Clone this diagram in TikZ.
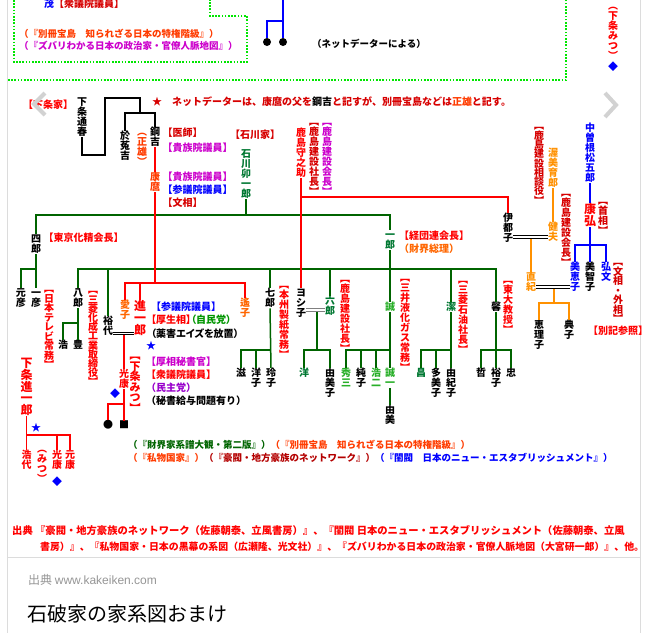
\documentclass[tikz,border=0pt]{standalone}
\usepackage{fontspec}
\setmainfont{Noto Sans CJK JP}
\newfontfamily\latinsans{Liberation Sans}
\usetikzlibrary{positioning}
\definecolor{jred}{RGB}{255,0,0}
\definecolor{dkred}{RGB}{215,0,0}
\definecolor{dkredB}{RGB}{180,0,0}
\definecolor{ored}{RGB}{255,60,0}
\definecolor{orng}{RGB}{255,102,0}
\definecolor{amber}{RGB}{255,145,0}
\definecolor{mag}{RGB}{204,0,204}
\definecolor{purp}{RGB}{153,0,204}
\definecolor{jblue}{RGB}{0,0,255}
\definecolor{grline}{RGB}{0,100,0}
\definecolor{grtext}{RGB}{0,120,50}
\definecolor{lgrn}{RGB}{40,175,40}
\definecolor{jpgreen}{RGB}{0,150,0}
\definecolor{dotgreen}{RGB}{0,230,0}
\definecolor{framegray}{RGB}{220,220,220}
\definecolor{arrowgray}{RGB}{210,210,210}
\definecolor{credgray}{RGB}{150,150,150}

% vertical text: one character per line
\makeatletter
\def\vt@end{\vt@end}
\newcommand\vt[2][1.0em]{\vbox{\baselineskip=#1\lineskiplimit=-\maxdimen\lineskip=0pt\vt@loop#2\vt@end}}
\def\vt@loop#1{\ifx\vt@end#1\else\hbox to 1em{\hss\vrule height .86em depth .14em width 0pt#1\hss}\expandafter\vt@loop\fi}
\makeatother

\begin{document}
\begin{tikzpicture}[x=1pt,y=-1pt,
  every node/.style={inner sep=0pt,font=\fontsize{10}{11}\selectfont\bfseries},
  vn/.style={anchor=north},
  hn/.style={anchor=west},
  small/.style={font=\fontsize{9.5}{11}\selectfont\bfseries},
  tight/.style={font=\fontsize{10}{11}\selectfont\bfseries\addfontfeatures{RawFeature=+palt}},
  big/.style={font=\fontsize{12}{13}\selectfont\bfseries},
  gline/.style={draw=grline,line width=1.5pt},
  rline/.style={draw=jred,line width=1.5pt},
  bline/.style={draw=black,line width=1.5pt},
  uline/.style={draw=jblue,line width=1.5pt},
  oline/.style={draw=amber,line width=1.5pt},
  dblk/.style={draw=black,double=white,double distance=1.4pt,line width=0.9pt},
  dgry/.style={draw=gray,double=white,double distance=1.4pt,line width=0.9pt},
  dots/.style={draw=dotgreen,line width=1.6pt,dash pattern=on 1.6pt off 1.6pt}]
  \clip (0,0) rectangle (659,633);
  \fill[white] (0,0) rectangle (659,633);
  % page frame and dotted boxes
  \draw[framegray,line width=0.8pt] (7,0) -- (7,633) (640,0) -- (640,633) (7,557) -- (640,557);
  \draw[dots] (14,0) -- (14,62) -- (247,62) -- (247,16) -- (210,16) -- (210,0);
  \draw[dots] (8,80) -- (566,80) -- (566,0);

  % top block
  \node[hn] (shigeru) at (44,4) {\textcolor{jblue}{茂}\textcolor{dkred}{【衆議院議員】}};
  \node[hn,small,text=ored] (srcA) at (19,34) {（『別冊宝島　知られざる日本の特権階級』）};
  \node[hn,small,text=mag] (srcB) at (19,46) {（『ズバリわかる日本の政治家・官僚人脈地図』）};
  \node[circle,fill=black,minimum size=8pt] (dotA) at (267,42) {};
  \node[circle,fill=black,minimum size=8pt] (dotB) at (283,42) {};
  \coordinate (mtop) at (283,-2);
  \coordinate (mj) at (283,21);
  \draw[uline] (mtop) -- (dotB.north);
  \draw[uline] (dotA.north) |- (mj);
  \node[hn,small] (netnote) at (312,44) {（ネットデーターによる）};
  \node[anchor=south,text=jred] (mitsuTop) at (613,61) {\vt{︵下条みつ︶}};
  \node[text=jblue] (diaA) at (613,67) {◆};

  \node[hn,text=jred] (shimojoke) at (23,105) {【下条家】};
  \node[hn,text=dkred] (note) at (152,102) {★　ネットデーターは、康麿の父を\textcolor{black}{鋼吉}と記すが、別冊宝島などは\textcolor{ored}{正雄}と記す。};

  % Shimojo
  \node[vn] (michiharu) at (82,97) {\vt{下条通春}};
  \node[vn] (otokichi) at (125,131) {\vt{於菟吉}};
  \node[vn,text=ored] (masao) at (142,127) {\vt{︵正雄︶}};
  \node[vn] (kokichi) at (155,127) {\vt{鋼吉}};
  \node[hn,text=dkred] (ishi) at (162.5,133) {【医師】};
  \node[hn,text=mag] (kizokuA) at (162.5,148) {【貴族院議員】};
  \coordinate (sj) at (140,113);
  \draw[bline] (michiharu.south) -- (82,155) -- (105,155) -- (105,98) -- (140,98) -- (sj);
  \draw[bline] (otokichi.north) |- (sj) -| (kokichi.north);
  \node[vn,text=ored] (yasumaro) at (155,172) {\vt{康麿}};
  \node[hn,text=mag] (kizokuB) at (162.5,177) {【貴族院議員】};
  \node[hn,text=jblue] (sangiA) at (162.5,190) {【参議院議員】};
  \node[hn,text=dkred] (monsho) at (162.5,203) {【文相】};

  % Ishikawa
  \node[hn,text=dkred] (ishikawake) at (230,135) {【石川家】};
  \node[vn,text=grtext] (ishikawa) at (246,149) {\vt{石川卯一郎}};
  \coordinate (bar1) at (246,215);
  \node[vn] (shiro) at (36,234) {\vt{四郎}};
  \node[hn,text=jred] (kasei) at (43.5,238) {【東京化精会長】};
  \node[vn] (motohiko) at (21,288) {\vt{元彦}};
  \node[vn] (kazuhiko) at (36,288) {\vt{一彦}};
  \node[vn,text=jred] (ntv) at (49,284) {\vt[0.95em]{︻日本テレビ常務︼}};
  \coordinate (sb4) at (36,269);
  \node[vn,text=grtext] (ichiro) at (390,230) {\vt{一郎}};
  \node[hn,text=jred] (keidanren) at (399,236) {【経団連会長】};
  \node[hn,text=orng] (zaikai) at (399,249) {（財界総理）};
  \coordinate (bar2) at (390,269);

  \node[vn] (hachiro) at (78,288) {\vt{八郎}};
  \node[vn] (hiroshi) at (63,340) {\vt{浩}};
  \node[vn] (yutaka) at (78,340) {\vt{豊}};
  \coordinate (sb8) at (78,323);
  \node[vn,text=jred] (mitsubishiA) at (93,285) {\vt[0.92em]{︻三菱化成工業取締役︼}};
  \node[vn] (hiroyo) at (108,316) {\vt{裕代}};
  \node[vn,text=orng] (aiko) at (125,300) {\vt{愛子}};
  \node[vn,text=jred,big] (shinichiro) at (140,300) {\vt[0.98em]{進一郎}};
  \coordinate (bar3) at (155,283);
  \coordinate (hs) at (124,333.5);
  \node[hn,text=jblue] (sangiB) at (151,307) {【参議院議員】};
  \node[hn,tight] (kosei) at (151,320) {\textcolor{jred}{【厚生相】}\textcolor{jpgreen}{（自民党）}};
  \node[hn,tight] (aids) at (151,334) {（薬害エイズを放置）};
  \node[text=jblue] (starA) at (151,346) {★};
  \node[vn,text=jred,font=\fontsize{11}{12}\selectfont\bfseries] (mitsu) at (135,350) {\vt[0.96em]{︻下条みつ︼}};
  \node[hn,text=mag] (hisho) at (146,362) {【厚相秘書官】};
  \node[hn,text=jred] (shugi) at (146,375) {【衆議院議員】};
  \node[hn,text=purp] (minshu) at (146,388) {（民主党）};
  \node[hn] (kyuyo) at (146,401) {（秘書給与問題有り）};
  \node[vn,text=jred] (mitsuyasu) at (124,369) {\vt{光康}};
  \node[text=jblue] (diaB) at (115,394) {◆};
  \node (dotC) at (108,425) {●};
  \node (sqC) at (124,425) {■};
  \coordinate (sbm) at (124,404);
  \node[vn,text=orng] (haruko) at (245,298) {\vt{遙子}};

  \node[vn] (shichiro) at (270,288) {\vt{七郎}};
  \node[vn] (shigeruB) at (241,368) {\vt{滋}};
  \node[vn] (yokoA) at (256,368) {\vt{洋子}};
  \node[vn] (reiko) at (271,368) {\vt{玲子}};
  \coordinate (sb7) at (270,350);
  \node[vn,text=jred] (honshu) at (284,280) {\vt{︻本州製紙常務︼}};
  \node[vn] (yoshiko) at (301,288) {\vt{ヨシ子}};
  \node[vn,text=grtext] (rokuro) at (330,296) {\vt{六郎}};
  \coordinate (yr) at (317,310);
  \coordinate (sb6) at (317,350);
  \node[vn,text=grtext] (yoB) at (304,368) {\vt{洋}};
  \node[vn] (yumiko) at (330,368) {\vt{由美子}};
  \node[vn,text=jred] (kajimaA) at (345,274) {\vt{︻鹿島建設社長︼}};
  \node[vn,text=lgrn] (makoto) at (390,302) {\vt{誠}};
  \coordinate (sbmk) at (390,350);
  \node[vn,text=lgrn] (shuzo) at (346,368) {\vt{秀三}};
  \node[vn] (junko) at (361,368) {\vt{純子}};
  \node[vn,text=lgrn] (koji) at (376,368) {\vt{浩二}};
  \node[vn,text=lgrn] (seiichi) at (390,368) {\vt{誠一}};
  \node[vn] (yumi) at (390,405) {\vt{由美}};
  \node[vn,text=jred] (mitsui) at (405,273) {\vt{︻三井液化ガス常務︼}};
  \node[vn,text=grtext] (kiyoshi) at (451,302) {\vt{潔}};
  \coordinate (sbk) at (451,350);
  \node[vn,text=grtext] (akira) at (421,368) {\vt{昌}};
  \node[vn] (tamiko) at (436,368) {\vt{多美子}};
  \node[vn] (yukiko) at (451,368) {\vt{由紀子}};
  \node[vn,text=jred] (mitsubishiB) at (463,275) {\vt{︻三菱石油社長︼}};
  \node[vn] (kaoru) at (496,302) {\vt{馨}};
  \coordinate (sbka) at (496,350);
  \node[vn] (tetsu) at (481,368) {\vt{哲}};
  \node[vn] (hiroko) at (496,368) {\vt{裕子}};
  \node[vn] (tadashi) at (511,368) {\vt{忠}};
  \node[vn,text=jred] (todai) at (508,275) {\vt{︻東大教授︼}};

  % Kajima and Nakasone
  \node[vn,text=jred] (moriyosuke) at (301,128) {\vt{鹿島守之助}};
  \node[vn,text=dkred] (kajimaB) at (314,117) {\vt{︻鹿島建設社長︼}};
  \node[vn,text=mag] (kajimaC) at (327,117) {\vt{︻鹿島建設会長︼}};
  \coordinate (kj) at (301,197);
  \node[vn] (itsuko) at (508,213) {\vt{伊都子}};
  \node[vn,text=amber] (atsumi) at (553,148) {\vt{渥美育郎}};
  \node[vn,text=amber] (takeo) at (553,222) {\vt{健夫}};
  \node[vn,text=dkred] (sodan) at (539,121) {\vt[0.93em]{︻鹿島建設相談役︼}};
  \node[vn,text=dkred] (kajimaD) at (566,188) {\vt{︻鹿島建設会長︼}};
  \coordinate (itk) at (531,237);
  \node[vn,text=amber] (naoki) at (531,272) {\vt{直紀}};
  \node[vn,text=jblue] (nakasone) at (590,123) {\vt{中曽根松五郎}};
  \node[vn,text=jred,big] (yasuhiro) at (590,203) {\vt{康弘}};
  \node[vn,text=dkred] (shusho) at (603,196) {\vt{︻首相︼}};
  \coordinate (nb) at (590,245);
  \node[vn,text=jblue] (mieko) at (575,262) {\vt{美恵子}};
  \node[vn] (michiko) at (590,262) {\vt{美智子}};
  \node[vn,text=jblue] (hirofumi) at (606,262) {\vt{弘文}};
  \node[vn,text=dkred] (gaisho) at (618,257) {\vt[0.95em]{︻文相・外相︼}};
  \node[hn,text=jred] (bekki) at (588,331) {【別記参照】};
  \coordinate (nm) at (554,287);
  \coordinate (nkb) at (554,303);
  \node[vn] (eriko) at (539,320) {\vt{恵理子}};
  \node[vn] (noriko) at (569,320) {\vt{典子}};

  % bottom left
  \node[vn,text=jred,big] (shinichiroB) at (26.5,357) {\vt[0.98em]{下条進一郎}};
  \node[text=jblue] (starB) at (36,428) {★};
  \node[vn,text=jred] (hiroyoB) at (26.5,450) {\vt{浩代}};
  \node[vn,text=jred] (mitsuB) at (42,444) {\vt{︵みつ︶}};
  \node[vn,text=jred] (mitsuyasuB) at (57,450) {\vt{光康}};
  \node[vn,text=jred] (motoyasu) at (70,450) {\vt{元康}};
  \node[text=jblue] (diaC) at (57,482) {◆};
  \coordinate (sbB) at (26.5,435);

  % green lines
  \draw[gline] (ishikawa.south) -- (bar1);
  \draw[gline] (shiro.north) |- (bar1) -| (ichiro.north);
  \draw[gline] (shiro.south) -- (kazuhiko.north);
  \draw[gline] (motohiko.north) |- (sb4);
  \draw[gline] (ichiro.south) -- (makoto.north);
  \draw[gline] (hachiro.north) |- (bar2) -| (kaoru.north);
  \draw[gline] (hiroyo.north) -- (hiroyo.north |- bar2);
  \draw[gline] (shichiro.north) -- (shichiro.north |- bar2);
  \draw[gline] (rokuro.north) -- (rokuro.north |- bar2);
  \draw[gline] (kiyoshi.north) -- (kiyoshi.north |- bar2);
  \draw[gline] (hachiro.south) -- (yutaka.north);
  \draw[gline] (hiroshi.north) |- (sb8);
  \draw[gline] (shichiro.south) -- (reiko.north);
  \draw[gline] (shigeruB.north) |- (sb7);
  \draw[gline] (yokoA.north) -- (yokoA.north |- sb7);
  \draw[gline] (yr) -- (sb6);
  \draw[gline] (yoB.north) |- (sb6) -| (yumiko.north);
  \draw[gline] (makoto.south) -- (seiichi.north);
  \draw[gline] (shuzo.north) |- (sbmk);
  \draw[gline] (junko.north) -- (junko.north |- sbmk);
  \draw[gline] (koji.north) -- (koji.north |- sbmk);
  \draw[gline] (seiichi.south) -- (yumi.north);
  \draw[gline] (kiyoshi.south) -- (yukiko.north);
  \draw[gline] (akira.north) |- (sbk);
  \draw[gline] (tamiko.north) -- (tamiko.north |- sbk);
  \draw[gline] (kaoru.south) -- (hiroko.north);
  \draw[gline] (tetsu.north) |- (sbka) -| (tadashi.north);

  % red, orange and blue lines
  \draw[rline] (kokichi.south) -- (yasumaro.north);
  \draw[rline] (yasumaro.south) -- (bar3);
  \draw[rline] (aiko.north) |- (bar3) -| (haruko.north);
  \draw[rline] (shinichiro.north) -- (shinichiro.north |- bar3);
  \draw[rline] (hs) -- (mitsuyasu.north);
  \draw[rline] (mitsuyasu.south) -- (sqC.north);
  \draw[rline] (dotC.north) |- (sbm);
  \draw[rline] (moriyosuke.south) -- (yoshiko.north);
  \draw[rline] (kj) -| (itsuko.north);
  \draw[rline] (shinichiroB.south) -- (hiroyoB.north);
  \draw[rline] (sbB) -| (motoyasu.north);
  \draw[rline] (mitsuyasuB.north) -- (mitsuyasuB.north |- sbB);
  \draw[oline] (atsumi.south) -- (takeo.north);
  \draw[oline] (itk) -- (naoki.north);
  \draw[oline] (nm) -- (nkb);
  \draw[oline] (eriko.north) |- (nkb) -| (noriko.north);
  \draw[uline] (nakasone.south) -- (yasuhiro.north);
  \draw[uline] (yasuhiro.south) -- (michiko.north);
  \draw[uline] (mieko.north) |- (nb) -| (hirofumi.north);

  % marriages
  \draw[dblk] (hiroyo.east |- hs) -- (shinichiro.west |- hs);
  \draw[dgry] (yoshiko.east |- yr) -- (rokuro.west |- yr);
  \draw[dblk] (itsuko.east |- itk) -- (takeo.west |- itk);
  \draw[dblk] (naoki.east |- nm) -- (mieko.west |- nm);

  % sources
  \node[hn,small] (srcC) at (128,445) {\textcolor{grline}{（『財界家系譜大観・第二版』）}\textcolor{ored}{（『別冊宝島　知られざる日本の特権階級』）}};
  \node[hn,small] (srcD) at (128,458) {\textcolor{ored}{（『私物国家』）}\textcolor{dkredB}{（『豪閥・地方豪族のネットワーク』）}\textcolor{jblue}{（『閨閥　日本のニュー・エスタブリッシュメント』）}};
  \node[hn,text=jred,font=\fontsize{10.3}{11}\selectfont\bfseries] (footA) at (12,531) {出典 『豪閥・地方豪族のネットワーク（佐藤朝泰、立風書房）』、『閨閥 日本のニュー・エスタブリッシュメント（佐藤朝泰、立風};
  \node[hn,text=jred,font=\fontsize{9.9}{11}\selectfont\bfseries] (footB) at (40,547) {書房）』、『私物国家・日本の黒幕の系図（広瀬隆、光文社）』、『ズバリわかる日本の政治家・官僚人脈地図（大宮研一郎）』、他。};
  \node[hn,text=credgray,font=\fontsize{12}{13}\selectfont] (credit) at (28,580) {出典 {\latinsans www.kakeiken.com}};
  \node[hn,font=\fontsize{20}{22}\selectfont] (title) at (27,614) {石破家の家系図おまけ};

  % carousel arrows
  \draw[arrowgray,line width=4pt] (45,93) -- (34,104) -- (45,115);
  \draw[arrowgray,line width=4pt] (605,93) -- (616,105) -- (605,117);
\end{tikzpicture}
\end{document}
